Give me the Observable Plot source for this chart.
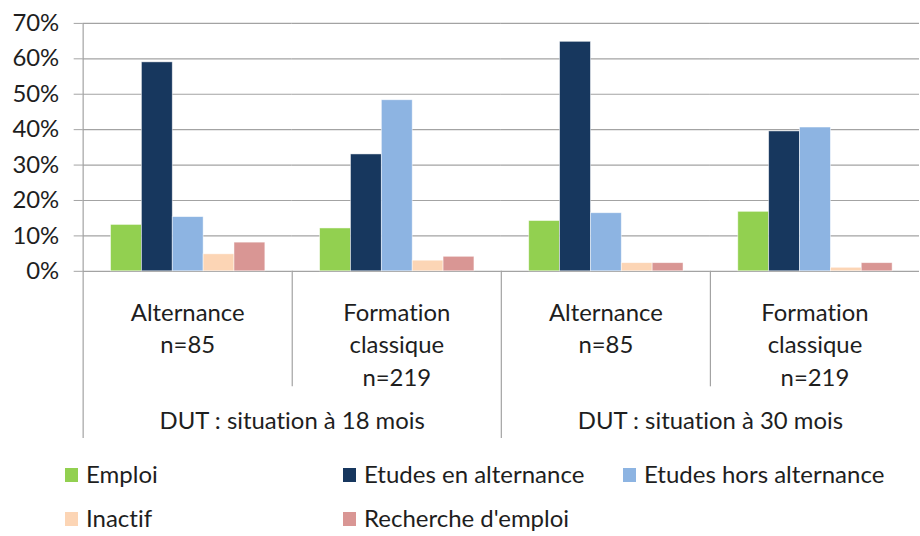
<!DOCTYPE html>
<html>
<head>
<meta charset="utf-8">
<script src="https://cdn.jsdelivr.net/npm/d3@7"></script>
<script src="https://cdn.jsdelivr.net/npm/@observablehq/plot@0.6"></script>
<style>
  html, body { margin: 0; padding: 0; background: #fff; overflow: hidden; }
  #chart { width: 920px; overflow: hidden; font-family: Lato, sans-serif; }
  #chart svg { display: block; font-variant-ligatures: none; }
</style>
</head>
<body>
<div id="chart"></div>
<script>
// ---- data ----
const groupKeys = ["alt18", "cla18", "alt30", "cla30"];
const groupLabels = ["Alternance\nn=85", "Formation\nclassique\nn=219", "Alternance\nn=85", "Formation\nclassique\nn=219"];
const periodLabels = ["DUT : situation à 18 mois", "DUT : situation à 30 mois"];
const periodFirstGroup = ["alt18", "alt30"];
const series = ["Emploi", "Etudes en alternance", "Etudes hors alternance", "Inactif", "Recherche d'emploi"];
const emploi = [13.1, 12.1, 14.2, 16.8];
const etudesAlternance = [59.0, 33.0, 64.8, 39.5];
const etudesHorsAlternance = [15.3, 48.3, 16.4, 40.6];
const inactif = [4.8, 3.0, 2.3, 1.0];
const rechercheEmploi = [8.1, 4.1, 2.3, 2.3];
const seriesColors = ["#92D050", "#17375E", "#8DB4E2", "#FCD5B5", "#D99694"];
const yTicks = [0, 10, 20, 30, 40, 50, 60, 70];

const gridColor = "#A3A3A3";
const textColor = "#1e1e1e";

// ---- table built from the arrays ----
const seriesValues = [emploi, etudesAlternance, etudesHorsAlternance, inactif, rechercheEmploi];
const rows = [];
groupKeys.forEach((g, gi) => {
  series.forEach((s, si) => rows.push({group: g, series: s, value: seriesValues[si][gi]}));
});
const groupRows = groupKeys.map((g, i) => ({group: g, label: groupLabels[i]}));
const periodRows = periodLabels.map((p, i) => ({group: periodFirstGroup[i], label: p}));

// dividers of the multi-level category axis, drawn once with the fx scale
class CategoryDividers extends Plot.Mark {
  constructor() { super(undefined, {}, {facet: "super"}); }
  render(index, scales, values, dimensions) {
    const fx = scales.fx;
    const {height, marginBottom, marginTop} = dimensions;
    const y0 = height - marginBottom;
    const g = d3.create("svg:g").attr("stroke", gridColor).attr("stroke-width", 1.2);
    groupKeys.forEach((key, i) => {
      const x = Math.round(fx(key)) + 0.5;
      const outer = i % 2 === 0;
      g.append("line")
        .attr("x1", x).attr("x2", x)
        .attr("y1", i === 0 ? marginTop : y0)
        .attr("y2", y0 + (outer ? 168 : 116));
    });
    return g.node();
  }
}

const plot = Plot.plot({
  width: 924,
  height: 452,
  marginTop: 23,
  marginBottom: 180,
  marginLeft: 81,
  marginRight: 0,
  style: {fontFamily: "Lato, sans-serif", fontSize: "24px", background: "white", overflow: "visible", color: textColor},
  fx: {domain: groupKeys, padding: 0, axis: null},
  x: {domain: series, paddingInner: 0, paddingOuter: 0.79, axis: null},
  y: {domain: [0, 70], axis: null},
  color: {domain: series, range: seriesColors},
  marks: [
    Plot.ruleY(yTicks, {stroke: gridColor, strokeWidth: 1.2}),
    Plot.barY(rows, {fx: "group", x: "series", y: "value", fill: "series", stroke: "#fff", strokeWidth: 0.8, strokeOpacity: 0.6}),
    Plot.axisY({ticks: yTicks, tickFormat: d => `${d}%`, tickSize: 9, tickPadding: 15, stroke: gridColor, fill: textColor, fontSize: 24, label: null}),
    Plot.text(groupRows, {fx: "group", text: "label", frameAnchor: "bottom", lineAnchor: "top", dy: 26, lineHeight: 1.375, fontSize: 24, fill: textColor}),
    Plot.text(periodRows, {fx: "group", text: "label", frameAnchor: "bottom-right", textAnchor: "middle", lineAnchor: "top", dy: 141, fontSize: 24, fill: textColor}),
    new CategoryDividers()
  ]
});
document.getElementById("chart").appendChild(plot);

// ---- legend below the plot ----
const legendPos = [[65, 0], [343, 0], [623, 0], [65, 1], [343, 1]];
const legend = d3.create("svg").attr("width", 920).attr("height", 84)
  .style("font-family", "Lato, sans-serif").style("font-size", "24px");
series.forEach((s, i) => {
  const [lx, row] = legendPos[i];
  const top = row * 44;
  legend.append("rect").attr("x", lx).attr("y", 18 + top).attr("width", 13).attr("height", 14).attr("fill", seriesColors[i]);
  legend.append("text").attr("x", lx + 21).attr("y", 33 + top).attr("fill", textColor).text(s);
});
document.getElementById("chart").appendChild(legend.node());
</script>
</body>
</html>
